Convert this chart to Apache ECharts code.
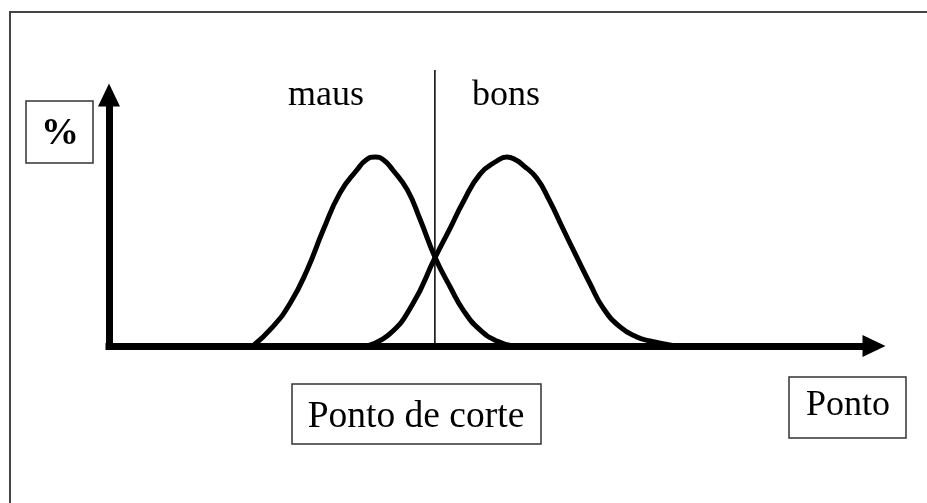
<!DOCTYPE html>
<html>
<head>
<meta charset="utf-8">
<title>Ponto de corte</title>
<script src="https://cdn.jsdelivr.net/npm/echarts@6/dist/echarts.min.js"></script>
<style>
  html, body { margin: 0; padding: 0; background: #fff; }
  #chart { width: 927px; height: 503px; }
</style>
</head>
<body>
<div id="chart"></div>
<script>
  // curva dos "maus" (x = ponto, y = %)
  var mausX = [18.8, 21.4, 23.7, 25.9, 28.0, 30.2, 32.4, 33.6, 34.8, 35.9, 37.1, 39.0, 40.7, 42.6, 44.6, 46.3, 48.5, 50.7, 52.8];
  var mausY = [0, 7.6, 17.1, 30.3, 46.2, 61.0, 70.1, 74.1, 75.3, 74.1, 70.1, 62.2, 50.2, 35.5, 23.5, 14.3, 6.4, 2.0, 0];
  // curva dos "bons"
  var bonsX = [33.7, 36.7, 39.7, 42.6, 44.6, 46.3, 48.5, 50.7, 52.0, 53.2, 54.1, 55.9, 57.6, 59.3, 61.2, 62.9, 64.6, 66.8, 69.0, 70.7, 74.0];
  var bonsY = [0, 4.8, 16.7, 35.1, 47.0, 57.4, 68.5, 73.7, 75.3, 74.1, 72.1, 66.9, 57.8, 47.0, 35.1, 24.7, 15.1, 7.6, 3.6, 2.0, 0];
  // ponto de corte
  var corteX = 42.6;
  var corteY = [0, 110];

  var serif = '"Liberation Serif", "Times New Roman", serif';

  function pairs(xs, ys) {
    return xs.map(function (x, i) { return [x, ys[i]]; });
  }

  var chart = echarts.init(document.getElementById('chart'));

  var axisCommon = {
    type: 'value',
    min: 0,
    max: 100,
    axisLine: {
      show: true,
      symbol: ['none', 'triangle'],
      symbolSize: [22, 23],
      lineStyle: { color: '#000', width: 7, cap: 'square' }
    },
    axisTick: { show: false },
    axisLabel: { show: false },
    splitLine: { show: false }
  };

  var curveStyle = { color: '#000', width: 5 };

  var option = {
    backgroundColor: '#fff',
    animation: false,
    grid: { left: 109, right: 53, top: 95, bottom: 157 },
    xAxis: axisCommon,
    yAxis: axisCommon,
    series: [
      {
        name: 'maus',
        type: 'line',
        smooth: 0.5,
        showSymbol: false,
        clip: false,
        lineStyle: curveStyle,
        data: pairs(mausX, mausY)
      },
      {
        name: 'bons',
        type: 'line',
        smooth: 0.5,
        showSymbol: false,
        clip: false,
        lineStyle: curveStyle,
        data: pairs(bonsX, bonsY)
      },
      {
        name: 'corte',
        type: 'line',
        showSymbol: false,
        clip: false,
        lineStyle: { color: '#000', width: 1.5 },
        data: [[corteX, corteY[0]], [corteX, corteY[1]]]
      }
    ],
    graphic: [
      // moldura (só topo e esquerda)
      {
        type: 'polyline',
        shape: { points: [[10, 503], [10, 12], [927, 12]] },
        style: { stroke: '#444', lineWidth: 2, fill: null }
      },
      {
        type: 'rect',
        shape: { x: 26, y: 101, width: 67, height: 62 },
        style: { stroke: '#333', lineWidth: 1.5, fill: '#fff' }
      },
      {
        type: 'text', x: 60, y: 134,
        style: { text: '%', font: 'bold 38px ' + serif, fill: '#000', align: 'center', verticalAlign: 'middle' }
      },
      {
        type: 'text', x: 326, y: 96,
        style: { text: 'maus', font: '36px ' + serif, fill: '#000', align: 'center', verticalAlign: 'middle' }
      },
      {
        type: 'text', x: 506, y: 96,
        style: { text: 'bons', font: '36px ' + serif, fill: '#000', align: 'center', verticalAlign: 'middle' }
      },
      {
        type: 'rect',
        shape: { x: 292, y: 384, width: 249, height: 60 },
        style: { stroke: '#333', lineWidth: 1.5, fill: '#fff' }
      },
      {
        type: 'text', x: 416, y: 417,
        style: { text: 'Ponto de corte', font: '37.5px ' + serif, fill: '#000', align: 'center', verticalAlign: 'middle' }
      },
      {
        type: 'rect',
        shape: { x: 789, y: 377, width: 117, height: 61 },
        style: { stroke: '#333', lineWidth: 1.5, fill: '#fff' }
      },
      {
        type: 'text', x: 848, y: 406,
        style: { text: 'Ponto', font: '36px ' + serif, fill: '#000', align: 'center', verticalAlign: 'middle' }
      }
    ]
  };

  chart.setOption(option);
</script>
</body>
</html>
